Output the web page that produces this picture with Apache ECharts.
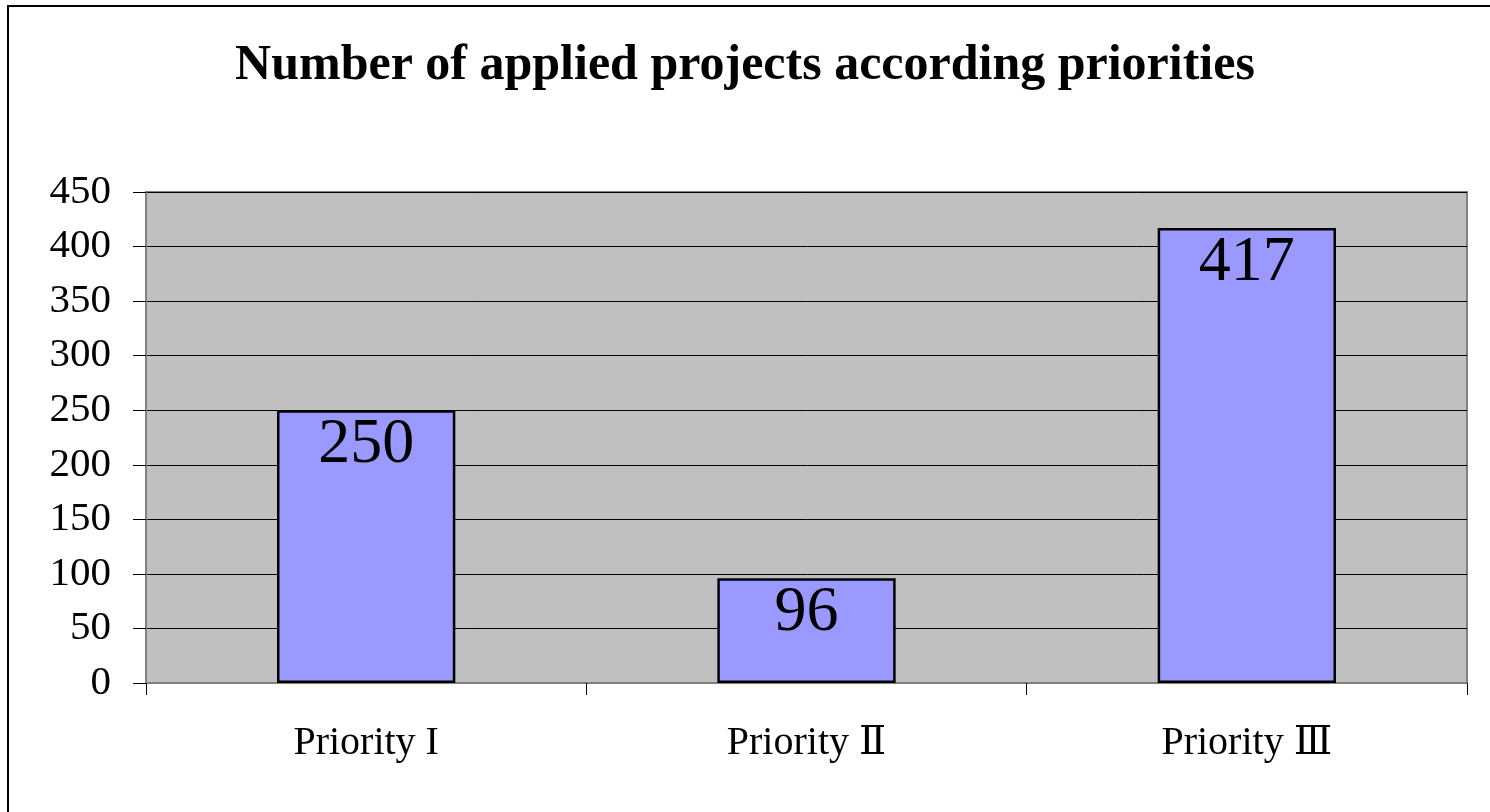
<!DOCTYPE html>
<html>
<head>
<meta charset="utf-8">
<script src="https://cdn.jsdelivr.net/npm/echarts@6/dist/echarts.min.js"></script>
<style>
html,body{margin:0;padding:0;background:#fff;}
#chart{width:1490px;height:812px;}
</style>
</head>
<body>
<div id="chart"></div>
<script>
const titleText = 'Number of applied projects according priorities';
const categories = ['Priority I', 'Priority Ⅱ', 'Priority Ⅲ'];
const values = [250, 96, 417];
const yMin = 0, yMax = 450, yStep = 50;

const chart = echarts.init(document.getElementById('chart'));
const serif = '"Liberation Serif", "DejaVu Serif", serif';
chart.setOption({
  animation: false,
  backgroundColor: '#fff',
  title: {
    text: titleText,
    left: 'center',
    top: 36,
    textStyle: { fontFamily: serif, fontWeight: 'bold', fontSize: 50, color: '#000' }
  },
  graphic: [{
    type: 'rect',
    shape: { x: 8, y: 6, width: 1500, height: 900 },
    style: { fill: 'none', stroke: '#000', lineWidth: 2 },
    silent: true
  }],
  grid: {
    left: 146, top: 192, right: 23, bottom: 129,
    show: true, backgroundColor: '#C0C0C0', borderColor: '#808080', borderWidth: 2
  },
  xAxis: {
    type: 'category',
    data: categories,
    axisLine: { show: true, lineStyle: { color: '#808080', width: 2 } },
    axisTick: { show: true, length: 12, lineStyle: { color: '#000', width: 1 } },
    axisLabel: { fontFamily: serif, fontSize: 40, color: '#000', margin: 40 }
  },
  yAxis: {
    type: 'value',
    min: yMin, max: yMax, interval: yStep,
    axisLine: { show: true, lineStyle: { color: '#808080', width: 2 } },
    axisTick: { show: true, length: 13, lineStyle: { color: '#000', width: 1 } },
    axisLabel: { fontFamily: serif, fontSize: 41, color: '#000', margin: 35 },
    splitLine: { show: true, lineStyle: { color: '#000', width: 1 } }
  },
  series: [{
    type: 'bar',
    data: values,
    barWidth: '40.5%',
    itemStyle: { color: '#9999FF', borderColor: '#000', borderWidth: 2.5 },
    label: {
      show: true, position: 'insideTop', distance: 3,
      fontFamily: serif, fontSize: 64, color: '#000'
    }
  }]
});
</script>
</body>
</html>
